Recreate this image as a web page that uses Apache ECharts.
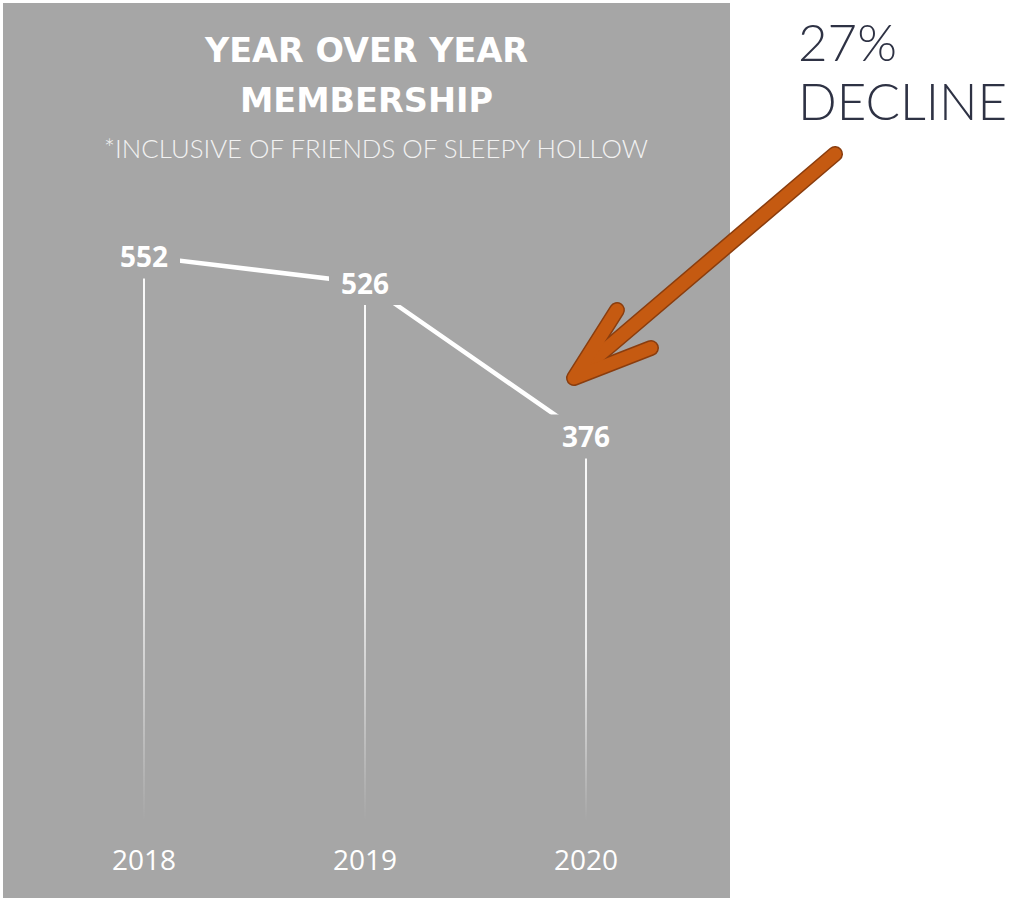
<!DOCTYPE html>
<html>
<head>
<meta charset="utf-8">
<script src="https://cdn.jsdelivr.net/npm/echarts@6/dist/echarts.min.js"></script>
<style>
html,body{margin:0;padding:0;background:#ffffff;}
#chart{width:1015px;height:898px;}
</style>
</head>
<body>
<div id="chart"></div>
<script>
// ---- data ----
const categories = ['2018', '2019', '2020'];
const membership = [552, 526, 376];
const titleLines = ['YEAR OVER YEAR', 'MEMBERSHIP'];
const subtitleText = '*INCLUSIVE OF FRIENDS OF SLEEPY HOLLOW';
const calloutLines = ['27%', 'DECLINE'];

// ---- styles ----
const PANEL = '#a6a6a6';
const ORANGE = '#c55a11';
const ORANGE_DARK = '#8a3d0e';
const NAVY = '#2e3244';

const chart = echarts.init(document.getElementById('chart'), null, { renderer: 'svg' });

function txt(text, x, y, font, extra) {
  return Object.assign({
    type: 'text', x: x, y: y, z: 20,
    style: Object.assign({
      text: text, fill: '#ffffff',
      align: 'center', verticalAlign: 'middle',
      textAlign: 'center', textVerticalAlign: 'middle'
    }, font)
  }, extra || {});
}

const option = {
  animation: false,
  backgroundColor: '#ffffff',
  grid: { left: 33.5, right: 318.5, top: 105, bottom: 77 },
  xAxis: {
    type: 'category',
    data: categories,
    boundaryGap: true,
    axisLine: { show: false },
    axisTick: { show: false },
    splitLine: { show: false },
    axisLabel: { color: '#ffffff', fontFamily: 'Open Sans', fontSize: 28, margin: 24 }
  },
  yAxis: { type: 'value', min: 0, max: 700, show: false },
  graphic: [
    { type: 'rect', z: -100, shape: { x: 3, y: 3, width: 727, height: 895 }, style: { fill: PANEL } },
    txt(titleLines[0], 366.5, 50, { fontFamily: 'DejaVu Sans', fontWeight: 'bold', fontSize: 33.5 }),
    txt(titleLines[1], 366.5, 100, { fontFamily: 'DejaVu Sans', fontWeight: 'bold', fontSize: 33.5 }),
    txt(subtitleText, 376, 148, { fontFamily: 'Lato', fontWeight: 300, fontSize: 25.8, fill: '#f2f2f2' }),
    txt(calloutLines[0], 798, 41, { fontFamily: 'Lato', fontWeight: 300, fontSize: 51, fill: NAVY, align: 'left', textAlign: 'left' }),
    txt(calloutLines[1], 798, 100, { fontFamily: 'Lato', fontWeight: 300, fontSize: 51, fill: NAVY, align: 'left', textAlign: 'left' }),
    // arrow outline
    { type: 'polyline', z: 30, shape: { points: [[835, 154], [578, 373]] },
      style: { stroke: ORANGE_DARK, lineWidth: 16, lineCap: 'round', lineJoin: 'round', fill: null } },
    { type: 'polyline', z: 30, shape: { points: [[617, 310], [574, 378], [651, 348]] },
      style: { stroke: ORANGE_DARK, lineWidth: 16, lineCap: 'round', lineJoin: 'round', fill: null } },
    // arrow fill
    { type: 'polyline', z: 31, shape: { points: [[835, 154], [578, 373]] },
      style: { stroke: ORANGE, lineWidth: 13, lineCap: 'round', lineJoin: 'round', fill: null } },
    { type: 'polyline', z: 31, shape: { points: [[617, 310], [574, 378], [651, 348]] },
      style: { stroke: ORANGE, lineWidth: 13, lineCap: 'round', lineJoin: 'round', fill: null } }
  ],
  series: [
    {
      type: 'bar',
      data: membership,
      barWidth: 2,
      z: 2,
      silent: true,
      itemStyle: {
        color: new echarts.graphic.LinearGradient(0, 0, 0, 1, [
          { offset: 0, color: 'rgba(255,255,255,0.95)' },
          { offset: 0.55, color: 'rgba(255,255,255,0.8)' },
          { offset: 1, color: 'rgba(255,255,255,0)' }
        ])
      }
    },
    {
      type: 'line',
      data: membership,
      z: 5,
      symbol: 'circle',
      symbolSize: 1,
      itemStyle: { color: PANEL },
      lineStyle: { color: '#ffffff', width: 4.5 },
      label: {
        show: true,
        position: 'inside',
        color: '#ffffff',
        fontFamily: 'Open Sans',
        fontWeight: 'bold',
        fontSize: 28,
        backgroundColor: PANEL,
        padding: [8, 12]
      }
    }
  ]
};
chart.setOption(option);
</script>
</body>
</html>
